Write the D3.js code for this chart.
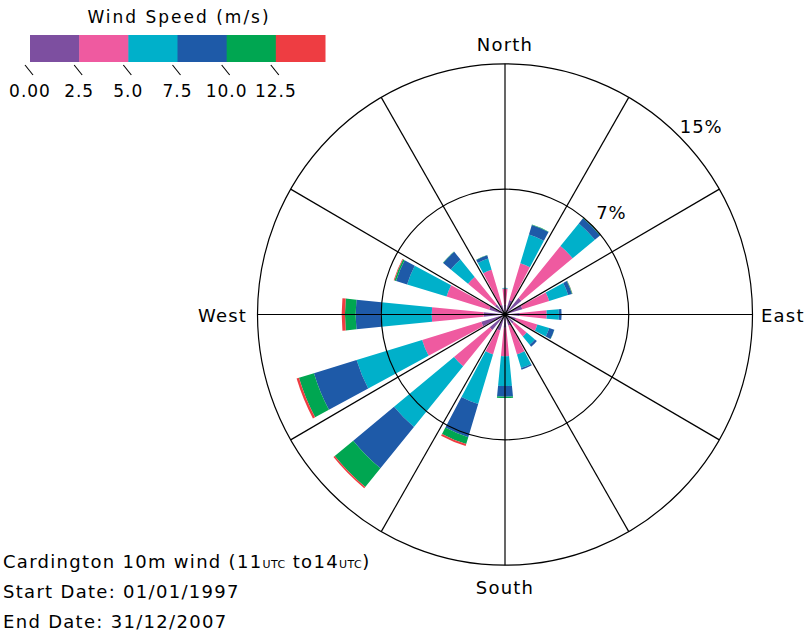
<!DOCTYPE html>
<html>
<head>
<meta charset="utf-8">
<script src="https://cdn.jsdelivr.net/npm/d3@7"></script>
<style>
  body { margin: 0; background: #fff; }
  text { font-family: "DejaVu Sans", sans-serif; fill: #000; }
</style>
</head>
<body>
<svg id="chart" width="804" height="637"></svg>
<script>
// Wind direction sectors (clockwise from north)
const directions = ["N", "NNE", "NE", "ENE", "E", "ESE", "SE", "SSE",
                    "S", "SSW", "SW", "WSW", "W", "WNW", "NW", "NNW"];

// Speed classes (m/s) and their colours
const speedBins = ["0-2.5", "2.5-5", "5-7.5", "7.5-10", "10-12.5", "12.5+"];
const speedTicks = ["0.00", "2.5", "5.0", "7.5", "10.0", "12.5"];
const binColors = ["#7d4fa0", "#ef5aa0", "#00b0ca", "#1e5aa8", "#00a651", "#ee3d42"];

// Frequency (% of observations) for each speed class, per direction
const freq0to2_5   = [0.6, 0.9, 1.3, 1.1, 0.9, 0.7, 0.7, 0.7, 0.8, 1.0, 1.2, 1.5, 1.3, 1.0, 0.8, 0.6];
const freq2_5to5   = [0.95, 2.3, 4.0, 1.7, 1.63, 1.35, 1.0, 1.8, 1.7, 1.5, 2.8, 3.75, 3.14, 2.7, 2.1, 2.2];
const freq5to7_5   = [0.05, 1.8, 1.75, 1.2, 0.74, 0.75, 0.65, 0.85, 1.78, 3.1, 4.7, 4.15, 3.09, 2.5, 1.35, 0.7];
const freq7_5to10  = [0.0, 0.6, 0.4, 0.24, 0.16, 0.32, 0.15, 0.1, 0.64, 2.07, 3.2, 2.7, 1.52, 0.7, 0.6, 0.2];
const freq10to12_5 = [0.0, 0.02, 0.05, 0.03, 0.0, 0.01, 0.0, 0.0, 0.08, 0.43, 1.45, 0.95, 0.65, 0.1, 0.02, 0.02];
const freq12_5up   = [0.0, 0.0, 0.02, 0.01, 0.0, 0.0, 0.0, 0.0, 0.0, 0.12, 0.1, 0.15, 0.2, 0.05, 0.0, 0.0];

// Frequency rings and compass labels
const ringValues = [7.5, 15];
const ringLabels = ["7%", "15%"];
const compassLabels = ["North", "East", "South", "West"];

const titleLines = ["Start Date: 01/01/1997", "End Date: 31/12/2007"];

const svg = d3.select("#chart");
const cx = 505, cy = 314.5, outerR = 247.5;

const seriesArrays = [freq0to2_5, freq2_5to5, freq5to7_5, freq7_5to10, freq10to12_5, freq12_5up];
const rows = directions.map((d, i) => {
  const row = { dir: d };
  speedBins.forEach((b, j) => { row[b] = seriesArrays[j][i]; });
  return row;
});
const stacked = d3.stack().keys(speedBins)(rows);

const r = d3.scaleLinear().domain([0, 15]).range([0, outerR]);
const angle = d3.scalePoint().domain(directions).range([0, 2 * Math.PI * 15 / 16]);
const halfWidth = Math.PI / 32;
const color = d3.scaleOrdinal().domain(speedBins).range(binColors);

const plot = svg.append("g").attr("transform", `translate(${cx},${cy}) scale(1,1.013)`);

// Stacked wedges
const arc = d3.arc()
  .innerRadius(d => r(d[0]))
  .outerRadius(d => r(d[1]))
  .startAngle(d => angle(d.data.dir) - halfWidth)
  .endAngle(d => angle(d.data.dir) + halfWidth);

plot.append("g").selectAll("g")
  .data(stacked)
  .join("g")
  .attr("fill", s => color(s.key))
  .selectAll("path")
  .data(s => s.filter(d => d[1] > d[0]))
  .join("path")
  .attr("d", arc);

// Grid: spokes every 30 degrees and frequency rings, drawn over the wedges
const grid = plot.append("g").attr("fill", "none").attr("stroke", "#000").attr("stroke-width", 1.2);
grid.selectAll("line")
  .data(d3.range(0, 360, 30))
  .join("line")
  .attr("x1", 0).attr("y1", 0)
  .attr("x2", a => r(15) * Math.sin(a * Math.PI / 180))
  .attr("y2", a => -r(15) * Math.cos(a * Math.PI / 180));
grid.selectAll("circle")
  .data(ringValues)
  .join("circle")
  .attr("r", d => r(d));
plot.append("circle").attr("r", 2.2).attr("fill", "#000");

// Ring labels along the north-east diagonal
const labelAngle = 46.5 * Math.PI / 180;
svg.append("g").selectAll("text")
  .data(ringValues)
  .join("text")
  .attr("x", (d) => cx + (r(d) + 23) * Math.sin(labelAngle))
  .attr("y", (d) => cy - (r(d) + 23) * Math.cos(labelAngle) * 1.013 + 7)
  .attr("text-anchor", "middle")
  .attr("font-size", 18)
  .attr("letter-spacing", 1)
  .text((d, i) => ringLabels[i]);

// Compass labels
const compassPos = [
  { x: cx, y: 51, anchor: "middle" },
  { x: 761, y: 322, anchor: "start" },
  { x: cx, y: 594, anchor: "middle" },
  { x: 247, y: 322, anchor: "end" }
];
svg.append("g").selectAll("text")
  .data(compassLabels)
  .join("text")
  .attr("x", (d, i) => compassPos[i].x)
  .attr("y", (d, i) => compassPos[i].y)
  .attr("text-anchor", (d, i) => compassPos[i].anchor)
  .attr("font-size", 18)
  .attr("letter-spacing", 1.2)
  .text(d => d);

// Legend: speed colour bar
const legend = svg.append("g");
const lx = d3.scaleBand().domain(speedBins).range([30, 325]);
legend.append("text")
  .attr("x", 179).attr("y", 23)
  .attr("text-anchor", "middle")
  .attr("font-size", 17)
  .attr("letter-spacing", 2)
  .text("Wind Speed (m/s)");
legend.selectAll("rect")
  .data(speedBins)
  .join("rect")
  .attr("x", d => lx(d))
  .attr("y", 35)
  .attr("width", lx.bandwidth() + 0.5)
  .attr("height", 27)
  .attr("fill", d => color(d));
legend.selectAll("line")
  .data(speedBins)
  .join("line")
  .attr("x1", d => lx(d) - 5).attr("y1", 65)
  .attr("x2", d => lx(d) + 3).attr("y2", 75)
  .attr("stroke", "#000").attr("stroke-width", 1.1);
legend.selectAll("text.tick")
  .data(speedTicks)
  .join("text")
  .attr("class", "tick")
  .attr("x", (d, i) => lx(speedBins[i]))
  .attr("y", 97)
  .attr("text-anchor", "middle")
  .attr("font-size", 17)
  .attr("letter-spacing", 1)
  .text(d => d);

// Station / period annotation
const note = svg.append("g").attr("font-size", 18).attr("letter-spacing", 1.3);
const first = note.append("text").attr("x", 3).attr("y", 568);
first.append("tspan").text("Cardington 10m wind (11");
first.append("tspan").attr("font-size", 11).attr("letter-spacing", 0.5).text("UTC");
first.append("tspan").text(" to14");
first.append("tspan").attr("font-size", 11).attr("letter-spacing", 0.5).text("UTC");
first.append("tspan").text(")");
note.selectAll("text.line")
  .data(titleLines)
  .join("text")
  .attr("class", "line")
  .attr("x", 3)
  .attr("y", (d, i) => 598 + i * 30)
  .text(d => d);
</script>
</body>
</html>
